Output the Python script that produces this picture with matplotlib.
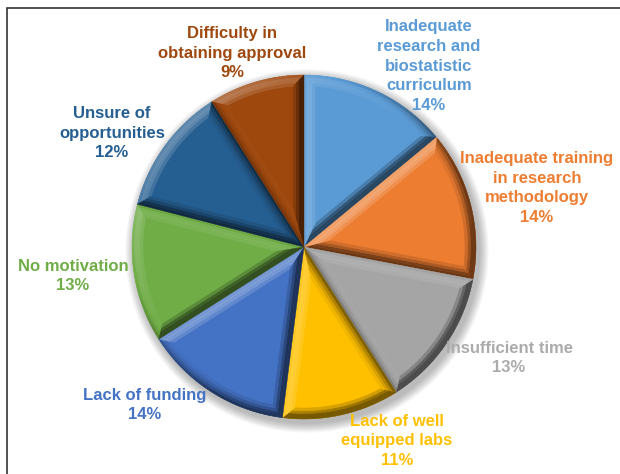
import numpy as np
import matplotlib
matplotlib.use("Agg")
import matplotlib.pyplot as plt
from matplotlib.collections import PolyCollection
from matplotlib.patches import Circle

# ---------------------------------------------------------------
# data
# ---------------------------------------------------------------
categories = [
    "Inadequate\nresearch and\nbiostatistic\ncurriculum",
    "Inadequate training\nin research\nmethodology",
    "Insufficient time",
    "Lack of well\nequipped labs",
    "Lack of funding",
    "No motivation",
    "Unsure of\nopportunities",
    "Difficulty in\nobtaining approval",
]
shares = [14, 14, 13, 11, 14, 13, 12, 9]

colors = ["#5B9BD5", "#ED7D31", "#A5A5A5", "#FFC000",
          "#4472C4", "#70AD47", "#255E91", "#9E480E"]
text_colors = ["#5B9BD5", "#ED7D31", "#ABABAB", "#FFC000",
               "#4472C4", "#70AD47", "#255E91", "#9E480E"]

# label anchor points in pixel space (x, y from top)
label_xy = [(429, 66), (537, 188), (509, 358), (397, 441),
            (145, 405), (73, 276), (112, 133), (232, 53)]

W, H = 620, 474
CX, CY, R = 304, H - 247, 172
BEVEL = 11

# light from the upper left
LIGHT = np.array([-0.55, 0.55, 0.63])
LIGHT = LIGHT / np.linalg.norm(LIGHT)


def shade(color, outward, tilt):
    c = np.array(matplotlib.colors.to_rgb(color))
    n = np.array([np.sin(tilt) * outward[0], np.sin(tilt) * outward[1], np.cos(tilt)])
    s = max(n @ LIGHT, 0.0) / LIGHT[2]
    if s >= 1:
        return c + (1 - c) * min((s - 1) * 0.55, 1)
    return c * (0.45 + 0.55 * s)


def bevel_facets(w, depth, tilts, m=60):
    cx, cy = w.center
    r = w.r
    t1, t2 = np.radians(w.theta1), np.radians(w.theta2)
    half = (t2 - t1) / 2
    mid = (t1 + t2) / 2
    insets = np.linspace(0, depth, len(tilts) + 1)

    def ring(e):
        apex = np.array([cx, cy]) + (e / np.sin(half)) * np.array([np.cos(mid), np.sin(mid)])
        dl = np.arcsin(e / (r - e)) if e > 0 else 0.0
        ang = np.linspace(t1 + dl, t2 - dl, m + 1)
        arc = np.column_stack([cx + (r - e) * np.cos(ang), cy + (r - e) * np.sin(ang)])
        return apex, arc, ang

    polys, cols = [], []
    color = w.get_facecolor()
    for k, tilt in enumerate(tilts):
        a0, q0, ang = ring(insets[k])
        a1, q1, _ = ring(insets[k + 1])
        for j in range(m):
            am = (ang[j] + ang[j + 1]) / 2
            polys.append([q0[j], q0[j + 1], q1[j + 1], q1[j]])
            cols.append(shade(color, (np.cos(am), np.sin(am)), tilt))
        e1 = t1 - np.pi / 2
        polys.append([a0, q0[0], q1[0], a1])
        cols.append(shade(color, (np.cos(e1), np.sin(e1)), tilt))
        e2 = t2 + np.pi / 2
        polys.append([a0, a1, q1[-1], q0[-1]])
        cols.append(shade(color, (np.cos(e2), np.sin(e2)), tilt))
    return polys, cols


fig = plt.figure(figsize=(W / 100, H / 100), dpi=100)
ax = fig.add_axes([0, 0, 1, 1])

# soft drop shadow behind the pie
for i in range(12):
    ax.add_patch(Circle((CX + 3, CY - 4), R + 1 + i * 0.8, color="black",
                        alpha=0.022, lw=0, zorder=0))

wedges, _ = ax.pie(shares, colors=colors, startangle=90, counterclock=False,
                   radius=R, center=(CX, CY), frame=False,
                   wedgeprops=dict(linewidth=0, zorder=1))

for w in wedges:
    polys, cols = bevel_facets(w, BEVEL, [np.radians(70), np.radians(50),
                                          np.radians(32), np.radians(15)])
    ax.add_collection(PolyCollection(polys, facecolors=cols, edgecolors=cols,
                                     linewidths=0.3, zorder=2))

for name, v, c, (x, y) in zip(categories, shares, text_colors, label_xy):
    ax.text(x, H - y, f"{name}\n{v}%", ha="center", va="center", color=c,
            fontsize=12, fontweight="bold", linespacing=1.4,
            family=["Liberation Sans Narrow", "Liberation Sans", "DejaVu Sans"])

# frame lines on the left and top
ax.plot([7, 7, W], [0, H - 8, H - 8], color="#333333", lw=1.2, zorder=5,
        solid_joinstyle="miter")

ax.set_xlim(0, W)
ax.set_ylim(0, H)
ax.set_aspect("auto")
ax.axis("off")

fig.savefig("out.png", dpi=100)
